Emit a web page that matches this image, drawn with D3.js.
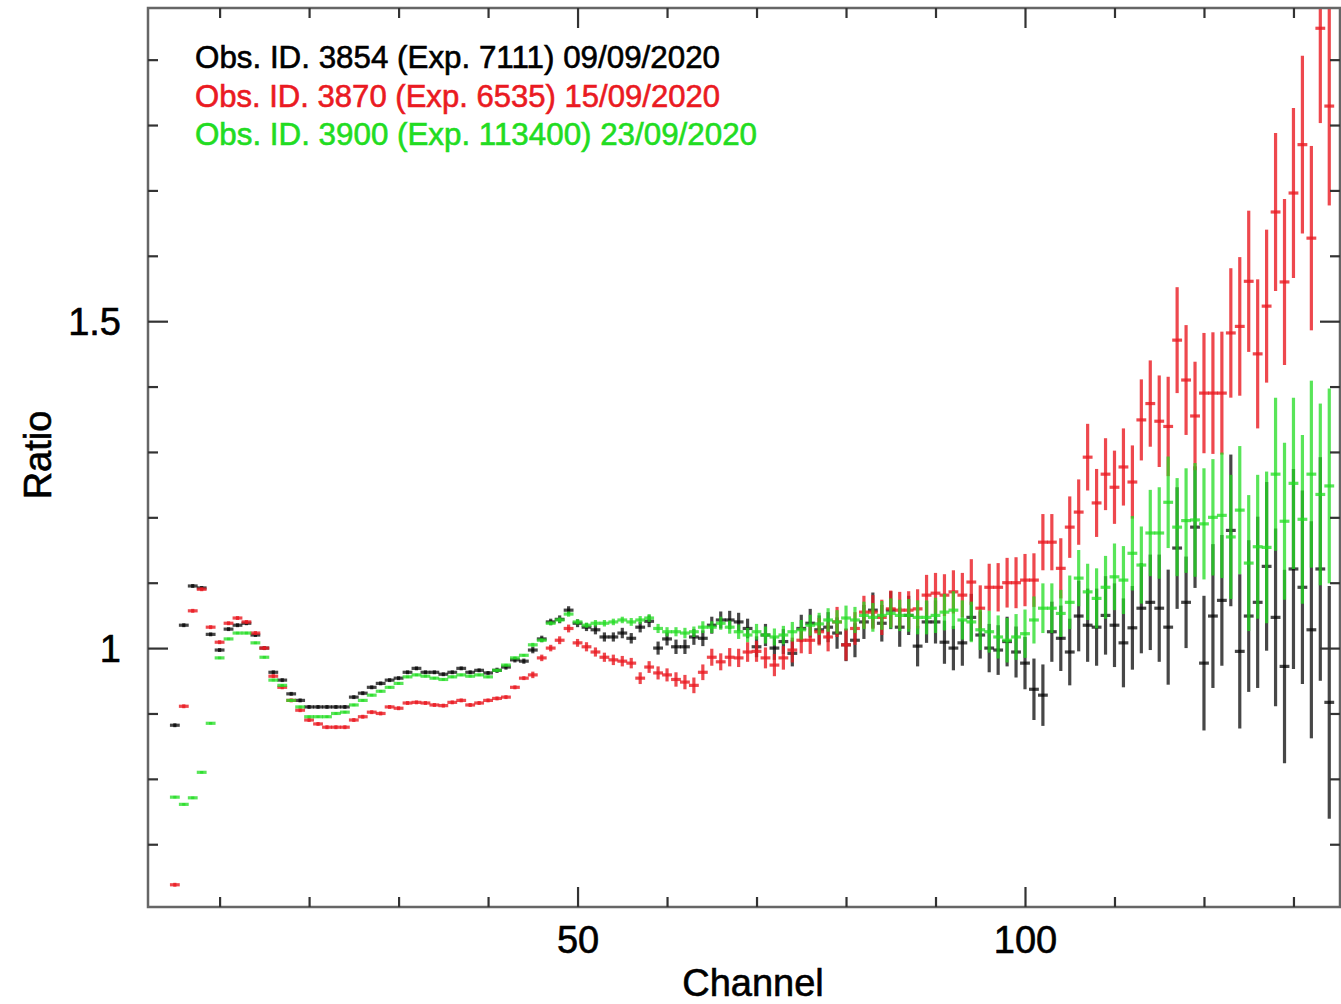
<!DOCTYPE html>
<html>
<head>
<meta charset="utf-8">
<script src="https://cdn.jsdelivr.net/npm/d3@7"></script>
<style>
	body { margin: 0; background: #fff; }
	svg { display: block; font-family: "Liberation Sans", Arial, Helvetica, sans-serif; }
	.tick line { stroke: #333; stroke-width: 2.2; }
	.lbl { stroke-width: 0.6px; }
</style>
</head>
<body>
<div id="chart"></div>
<script>
// one bin per channel, channels 5..134
var channels = d3.range(5, 135);

var ratioBlack = [
	0.882, 1.035, 1.095, 1.092, 1.021, 0.997, 1.029, 1.035, 1.038, 1.020,
	1.000, 0.963, 0.951, 0.930, 0.920, 0.910, 0.910, 0.910, 0.910, 0.910,
	0.925, 0.931, 0.940, 0.946, 0.951, 0.954, 0.963, 0.969, 0.963, 0.963,
	0.960, 0.963, 0.969, 0.963, 0.966, 0.962, 0.966, 0.971, 0.982, 0.980,
	0.997, 1.014, 1.040, 1.044, 1.058, 1.038, 1.032, 1.028, 1.017, 1.017,
	1.023, 1.015, 1.032, 1.041, 1.000, 1.014, 1.002, 1.002, 1.017, 1.015,
	1.035, 1.043, 1.043, 1.040, 1.030, 1.002, 1.020, 1.000, 1.010, 0.992,
	1.030, 1.038, 1.028, 1.032, 1.023, 1.005, 1.012, 1.040, 1.058, 1.038,
	1.058, 1.032, 1.050, 1.003, 1.040, 1.040, 1.009, 1.000, 1.008, 1.047,
	1.020, 1.000, 0.997, 1.010, 0.994, 0.977, 0.937, 0.928, 1.025, 1.015,
	0.994, 1.049, 1.035, 1.032, 1.050, 1.035, 1.008, 1.031, 1.061, 1.070,
	1.061, 1.032, 1.153, 1.070, 1.185, 0.977, 1.049, 1.073, 1.180, 0.995,
	1.049, 1.070, 1.125, 1.047, 0.972, 1.121, 1.093, 1.028, 1.121, 0.917
];
var ratioRed = [
	0.638, 0.911, 1.057, 1.090, 1.032, 1.009, 1.038, 1.046, 1.040, 1.023,
	1.000, 0.957, 0.940, 0.920, 0.905, 0.890, 0.884, 0.879, 0.879, 0.879,
	0.890, 0.895, 0.902, 0.900, 0.910, 0.908, 0.916, 0.917, 0.916, 0.913,
	0.912, 0.917, 0.920, 0.913, 0.916, 0.920, 0.923, 0.925, 0.940, 0.954,
	0.959, 0.985, 1.000, 1.012, 1.030, 1.008, 1.002, 0.994, 0.986, 0.982,
	0.980, 0.977, 0.954, 0.971, 0.962, 0.959, 0.952, 0.948, 0.943, 0.963,
	0.986, 0.979, 0.986, 0.985, 0.994, 0.995, 0.985, 0.974, 0.985, 0.997,
	1.012, 1.012, 1.025, 1.017, 1.040, 1.005, 1.030, 1.055, 1.055, 1.047,
	1.060, 1.058, 1.058, 1.060, 1.081, 1.084, 1.081, 1.086, 1.081, 1.101,
	1.061, 1.093, 1.093, 1.100, 1.100, 1.104, 1.104, 1.162, 1.162, 1.122,
	1.185, 1.208, 1.292, 1.222, 1.266, 1.246, 1.277, 1.254, 1.349, 1.374,
	1.347, 1.339, 1.471, 1.410, 1.355, 1.390, 1.390, 1.390, 1.482, 1.492,
	1.561, 1.450, 1.523, 1.667, 1.560, 1.696, 1.770, 1.627, 1.948, 1.829
];
var ratioGreen = [
	0.772, 0.761, 0.771, 0.810, 0.885, 0.985, 1.014, 1.023, 1.023, 1.008,
	0.986, 0.951, 0.943, 0.920, 0.910, 0.895, 0.895, 0.895, 0.900, 0.902,
	0.913, 0.920, 0.928, 0.934, 0.940, 0.946, 0.956, 0.959, 0.957, 0.954,
	0.952, 0.956, 0.959, 0.957, 0.959, 0.956, 0.966, 0.974, 0.985, 0.989,
	1.005, 1.012, 1.038, 1.043, 1.052, 1.040, 1.035, 1.038, 1.038, 1.040,
	1.043, 1.040, 1.043, 1.046, 1.030, 1.025, 1.025, 1.023, 1.025, 1.032,
	1.032, 1.038, 1.032, 1.025, 1.020, 1.025, 1.020, 1.017, 1.020, 1.025,
	1.028, 1.035, 1.037, 1.043, 1.040, 1.046, 1.043, 1.050, 1.047, 1.050,
	1.053, 1.050, 1.050, 1.047, 1.047, 1.050, 1.055, 1.058, 1.043, 1.040,
	1.028, 1.025, 1.017, 1.012, 1.017, 1.022, 1.043, 1.061, 1.061, 1.053,
	1.070, 1.107, 1.086, 1.076, 1.093, 1.109, 1.104, 1.145, 1.127, 1.176,
	1.176, 1.223, 1.185, 1.195, 1.196, 1.190, 1.200, 1.203, 1.170, 1.211,
	1.130, 1.155, 1.154, 1.266, 1.194, 1.252, 1.197, 1.266, 1.235, 1.248
];

// 1-sigma errors on the ratio
var errBlack = [
	0.003, 0.003, 0.003, 0.003, 0.003, 0.003, 0.003, 0.003, 0.003, 0.003,
	0.003, 0.003, 0.003, 0.003, 0.003, 0.003, 0.003, 0.003, 0.003, 0.003,
	0.003, 0.003, 0.003, 0.003, 0.003, 0.003, 0.003, 0.003, 0.003, 0.003,
	0.003, 0.003, 0.003, 0.003, 0.003, 0.003, 0.004, 0.004, 0.004, 0.004,
	0.005, 0.005, 0.005, 0.006, 0.006, 0.006, 0.006, 0.007, 0.007, 0.007,
	0.008, 0.008, 0.008, 0.009, 0.010, 0.010, 0.011, 0.011, 0.012, 0.012,
	0.013, 0.013, 0.014, 0.014, 0.015, 0.016, 0.017, 0.018, 0.019, 0.020,
	0.021, 0.022, 0.022, 0.023, 0.024, 0.025, 0.026, 0.026, 0.027, 0.028,
	0.029, 0.030, 0.030, 0.031, 0.032, 0.033, 0.033, 0.034, 0.035, 0.036,
	0.036, 0.037, 0.038, 0.038, 0.039, 0.040, 0.047, 0.047, 0.046, 0.050,
	0.051, 0.054, 0.056, 0.059, 0.060, 0.064, 0.068, 0.064, 0.069, 0.073,
	0.082, 0.088, 0.093, 0.070, 0.093, 0.103, 0.110, 0.100, 0.116, 0.118,
	0.116, 0.131, 0.129, 0.136, 0.148, 0.153, 0.148, 0.166, 0.171, 0.178
];
var errRed = [
	0.003, 0.003, 0.003, 0.003, 0.003, 0.003, 0.003, 0.003, 0.003, 0.003,
	0.003, 0.003, 0.003, 0.003, 0.003, 0.003, 0.003, 0.003, 0.003, 0.003,
	0.003, 0.003, 0.003, 0.003, 0.003, 0.003, 0.003, 0.003, 0.003, 0.003,
	0.003, 0.003, 0.003, 0.003, 0.003, 0.003, 0.003, 0.003, 0.003, 0.003,
	0.005, 0.005, 0.005, 0.006, 0.006, 0.006, 0.007, 0.007, 0.007, 0.008,
	0.008, 0.008, 0.009, 0.009, 0.010, 0.010, 0.011, 0.011, 0.012, 0.012,
	0.013, 0.013, 0.014, 0.014, 0.015, 0.016, 0.016, 0.017, 0.018, 0.019,
	0.020, 0.021, 0.021, 0.022, 0.023, 0.024, 0.025, 0.025, 0.026, 0.027,
	0.028, 0.028, 0.029, 0.030, 0.031, 0.031, 0.032, 0.033, 0.034, 0.035,
	0.035, 0.036, 0.037, 0.038, 0.039, 0.040, 0.041, 0.043, 0.043, 0.046,
	0.047, 0.050, 0.051, 0.052, 0.055, 0.056, 0.059, 0.056, 0.062, 0.066,
	0.070, 0.076, 0.081, 0.084, 0.083, 0.092, 0.093, 0.094, 0.099, 0.106,
	0.108, 0.114, 0.117, 0.121, 0.127, 0.130, 0.136, 0.141, 0.145, 0.152
];
var errGreen = [
	0.002, 0.002, 0.002, 0.002, 0.002, 0.002, 0.002, 0.002, 0.002, 0.002,
	0.002, 0.002, 0.002, 0.002, 0.002, 0.002, 0.002, 0.002, 0.002, 0.002,
	0.002, 0.002, 0.002, 0.002, 0.002, 0.002, 0.002, 0.002, 0.002, 0.002,
	0.002, 0.002, 0.002, 0.002, 0.002, 0.002, 0.002, 0.002, 0.002, 0.002,
	0.003, 0.003, 0.003, 0.004, 0.004, 0.004, 0.004, 0.005, 0.005, 0.005,
	0.005, 0.006, 0.006, 0.006, 0.007, 0.007, 0.007, 0.008, 0.008, 0.009,
	0.009, 0.010, 0.010, 0.011, 0.011, 0.012, 0.013, 0.013, 0.014, 0.015,
	0.015, 0.016, 0.017, 0.018, 0.018, 0.019, 0.020, 0.021, 0.022, 0.022,
	0.023, 0.024, 0.025, 0.026, 0.026, 0.027, 0.028, 0.029, 0.030, 0.031,
	0.031, 0.032, 0.033, 0.034, 0.035, 0.037, 0.036, 0.038, 0.038, 0.036,
	0.041, 0.043, 0.043, 0.046, 0.048, 0.051, 0.052, 0.057, 0.059, 0.066,
	0.070, 0.070, 0.075, 0.080, 0.087, 0.085, 0.089, 0.096, 0.095, 0.098,
	0.104, 0.110, 0.116, 0.117, 0.120, 0.131, 0.129, 0.143, 0.139, 0.149
];

var legendLabels = [
	"Obs. ID. 3854 (Exp. 7111) 09/09/2020",
	"Obs. ID. 3870 (Exp. 6535) 15/09/2020",
	"Obs. ID. 3900 (Exp. 113400) 23/09/2020"
];
var seriesColors = ["#000000", "#ea1a22", "#22dc22"];

var xMajorTicks = [50, 100];
var xMinorTicks = [10, 20, 30, 40, 60, 70, 80, 90, 110, 120, 130];
var yMajorTicks = [1, 1.5];
var yMinorTicks = [0.7, 0.8, 0.9, 1.1, 1.2, 1.3, 1.4, 1.6, 1.7, 1.8, 1.9];

var binHalfWidth = 0.55;

(function() {
	try {
		var width = 1341, height = 1004;
		var padL = 148, padR = 1340, padT = 8, padB = 907;

		var x = d3.scaleLinear().domain([2, 135.2]).range([padL, padR]);
		var y = d3.scaleLinear().domain([0.604, 1.979]).range([padB, padT]);

		var svg = d3.select("#chart")
			.append("svg")
			.attr("width", width)
			.attr("height", height);

		svg.append("rect")
			.attr("width", width)
			.attr("height", height)
			.attr("fill", "#fff");

		svg.append("clipPath")
			.attr("id", "plotClip")
			.append("rect")
			.attr("x", padL)
			.attr("y", padT)
			.attr("width", padR - padL)
			.attr("height", padB - padT);

		var series = [
			{values: ratioBlack, errors: errBlack, color: seriesColors[0], opacity: 0.72},
			{values: ratioRed, errors: errRed, color: seriesColors[1], opacity: 0.8},
			{values: ratioGreen, errors: errGreen, color: seriesColors[2], opacity: 0.75}
		];

		var marks = svg.append("g").attr("clip-path", "url(#plotClip)");

		series.forEach(function(s) {
			var pts = channels.map(function(c, i) {
				return {ch: c, v: s.values[i], e: s.errors[i]};
			});
			var g = marks.append("g")
				.attr("stroke", s.color)
				.attr("stroke-opacity", s.opacity)
				.attr("stroke-width", 3.2);

			g.selectAll("line.h")
				.data(pts)
				.enter().append("line")
				.attr("class", "h")
				.attr("x1", function(d) { return x(d.ch - binHalfWidth); })
				.attr("x2", function(d) { return x(d.ch + binHalfWidth); })
				.attr("y1", function(d) { return y(d.v); })
				.attr("y2", function(d) { return y(d.v); });

			g.selectAll("line.v")
				.data(pts)
				.enter().append("line")
				.attr("class", "v")
				.attr("x1", function(d) { return x(d.ch); })
				.attr("x2", function(d) { return x(d.ch); })
				.attr("y1", function(d) { return y(d.v - d.e); })
				.attr("y2", function(d) { return y(d.v + d.e); });
		});

		// frame
		svg.append("rect")
			.attr("x", padL)
			.attr("y", padT)
			.attr("width", padR - padL)
			.attr("height", padB - padT)
			.attr("fill", "none")
			.attr("stroke", "#666")
			.attr("stroke-width", 2.5);

		function addAxis(axis, tr) {
			var g = svg.append("g").attr("transform", tr).call(axis);
			g.select(".domain").remove();
			return g;
		}

		// minor ticks on all four sides
		addAxis(d3.axisBottom(x).tickValues(xMinorTicks).tickSize(-10).tickFormat(""), "translate(0," + padB + ")");
		addAxis(d3.axisTop(x).tickValues(xMinorTicks).tickSize(-10).tickFormat(""), "translate(0," + padT + ")");
		addAxis(d3.axisLeft(y).tickValues(yMinorTicks).tickSize(-10).tickFormat(""), "translate(" + padL + ",0)");
		addAxis(d3.axisRight(y).tickValues(yMinorTicks).tickSize(-10).tickFormat(""), "translate(" + padR + ",0)");

		// major ticks
		addAxis(d3.axisBottom(x).tickValues(xMajorTicks).tickSize(-20).tickPadding(19).tickFormat(d3.format("d")), "translate(0," + padB + ")");
		addAxis(d3.axisTop(x).tickValues(xMajorTicks).tickSize(-20).tickFormat(""), "translate(0," + padT + ")");
		var yl = addAxis(d3.axisLeft(y).tickValues(yMajorTicks).tickSize(-20).tickPadding(27).tickFormat(function(d) { return d; }), "translate(" + padL + ",0)");
		addAxis(d3.axisRight(y).tickValues(yMajorTicks).tickSize(-20).tickFormat(""), "translate(" + padR + ",0)");

		svg.selectAll(".tick text")
			.attr("class", "lbl")
			.attr("fill", "#000")
			.attr("stroke", "#000")
			.style("font-size", "38px")
			.style("font-family", "'Liberation Sans', Arial, sans-serif");
		yl.selectAll(".tick text").attr("dy", "0.36em");

		svg.append("text")
			.attr("class", "lbl")
			.attr("x", 753)
			.attr("y", 996)
			.attr("text-anchor", "middle")
			.attr("stroke", "#000")
			.style("font-size", "38px")
			.text("Channel");

		svg.append("text")
			.attr("class", "lbl")
			.attr("transform", "translate(51,455) rotate(-90)")
			.attr("text-anchor", "middle")
			.attr("stroke", "#000")
			.style("font-size", "38px")
			.text("Ratio");

		var legendWidths = [525, 525, 562];
		svg.selectAll("text.legend")
			.data(legendLabels)
			.enter().append("text")
			.attr("class", "legend lbl")
			.attr("x", 195)
			.attr("y", function(d, i) { return 68 + i * 38.5; })
			.attr("fill", function(d, i) { return seriesColors[i]; })
			.attr("stroke", function(d, i) { return seriesColors[i]; })
			.attr("textLength", function(d, i) { return legendWidths[i]; })
			.attr("lengthAdjust", "spacingAndGlyphs")
			.style("font-size", "31px")
			.text(function(d) { return d; });
	} catch (e) {
		console.log(e);
	}
})();
</script>
</body>
</html>
